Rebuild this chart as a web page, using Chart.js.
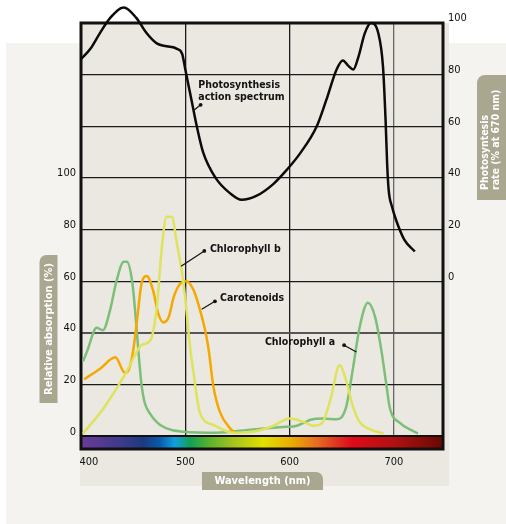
<!DOCTYPE html>
<html>
<head>
<meta charset="utf-8">
<script src="https://cdn.jsdelivr.net/npm/chart.js@4.4.1/dist/chart.umd.min.js"></script>
<style>
  html, body { margin: 0; padding: 0; background: #fff; }
  canvas { display: block; }
</style>
</head>
<body>
<canvas id="spectrumChart" width="506" height="524"></canvas>
<script>
// values: wavelength (nm) -> value
const actionNm = [400, 409, 418, 428, 441, 453, 463, 473, 482, 492, 497, 500, 506, 511, 517, 529, 543, 554, 568, 584, 597, 610, 626, 635, 645, 651, 656, 661, 666, 672, 678, 685, 689.5, 692, 693.5, 695, 698, 702, 710, 720];
const actionRate = [86, 90, 96, 102, 106, 102, 96, 92, 91, 90, 88, 82, 70, 60, 50, 40, 34, 31.5, 33, 37.5, 43, 49.5, 60, 70, 82, 85.5, 83.5, 82, 87, 96, 100, 96, 83, 62, 45, 35, 29, 23.7, 16, 11.5];

const chlANm = [402, 406, 415, 421, 428, 434, 441, 444, 449, 452, 455, 458, 461, 466, 476, 498, 530, 565, 597, 606, 613, 620, 632, 645, 654, 661, 667, 675, 682, 688, 693, 696, 706, 718, 723];
const chlAAbs = [29, 33, 42, 41, 49, 60, 67.5, 67.5, 60, 48, 33, 20, 13, 8.8, 4.3, 1.7, 1.3, 2.6, 3.6, 3.9, 5, 6.3, 6.8, 6.5, 11, 27, 42, 51.6, 46, 33, 19, 11, 5, 2, 1];

const chlBNm = [402, 422, 441, 454, 457, 463, 468, 473, 477, 482, 487, 492, 498, 501, 505, 508, 514, 527, 546, 565, 584, 600, 613, 623, 631, 639, 648, 654, 661, 667, 677, 690];
const chlBAbs = [1, 11, 23, 33, 35, 36, 38.5, 51, 71, 85, 85, 74.5, 60, 49, 33, 24, 9, 4.3, 1.3, 1.7, 3.9, 6.8, 5.5, 4, 5, 14, 27.5, 21.7, 11, 5.5, 2.6, 1];

const carNm = [403, 418, 433, 442, 446, 450, 454, 458, 463, 469, 474, 479, 484, 489, 495, 501, 508, 514, 519, 522, 527, 533, 543, 549];
const carAbs = [22, 26, 30.5, 24.5, 26, 33, 46, 59, 62, 56.5, 47.5, 44, 46, 54, 59, 60, 56.5, 49, 41, 34.5, 19, 9.5, 3, 1];

const xTicks = [400, 500, 600, 700];
const absTicks = [0, 20, 40, 60, 80, 100];
const absGrid = [0, 20, 40, 60, 80, 100, 120, 140, 160];
const rateTicks = [0, 20, 40, 60, 80, 100];

// visible spectrum strip under the plot
const spectrumNm = [400, 440, 460, 475, 490, 505, 520, 545, 575, 600, 625, 645, 660, 700, 745];
const spectrumCol = ['#6b3a99', '#3b3a8b', '#1d3a80', '#0a5aa8', '#12a0e0', '#12a056', '#50b030', '#a2c21e', '#e2e000', '#e9b000', '#e87020', '#e03322', '#e00a18', '#b01212', '#6a0a02'];

const FONT = '"DejaVu Sans Condensed", "Liberation Sans Narrow", sans-serif';
const BADGE = '#a9a790';

const notes = [
    { lines: ['Photosynthesis', 'action spectrum'], nm: 512.4, val: 135.8, dot: [514.7, 128.3], to: [508.5, 126.3] },
    { lines: ['Chlorophyll b'], nm: 523.6, val: 72.3, dot: [518.2, 71.7], to: [495.9, 65.8] },
    { lines: ['Carotenoids'], nm: 533.2, val: 53.5, dot: [528.4, 52.2], to: [515.7, 49.1] },
    { lines: ['Chlorophyll a'], nm: 576.3, val: 36.2, dot: [652.2, 35.2], to: [664, 32.6] }
];

const toPoints = (xs, ys) => xs.map((x, i) => ({ x: x, y: ys[i] }));

function badge(ctx, x, y, w, h, radii) {
    ctx.fillStyle = BADGE;
    ctx.beginPath();
    ctx.roundRect(x, y, w, h, radii);
    ctx.fill();
}

const decor = {
    id: 'decor',
    beforeDraw(chart) {
        const { ctx, chartArea: a } = chart;
        ctx.save();
        ctx.fillStyle = '#ffffff';
        ctx.fillRect(0, 0, chart.width, chart.height);
        ctx.fillStyle = '#f4f3ef';
        ctx.fillRect(6, 43, chart.width - 6, chart.height - 43);
        ctx.fillStyle = '#ebe8e1';
        ctx.fillRect(a.left - 1, a.top, a.right - a.left + 7, 486 - a.top);
        ctx.restore();
    },
    beforeDatasetsDraw(chart) {
        const { ctx, chartArea: a, scales } = chart;
        const top = scales.y.getPixelForValue(0);
        const grad = ctx.createLinearGradient(a.left, 0, a.right, 0);
        spectrumNm.forEach((nm, i) => {
            const off = (scales.x.getPixelForValue(nm) - a.left) / (a.right - a.left);
            grad.addColorStop(Math.min(1, Math.max(0, off)), spectrumCol[i]);
        });
        ctx.save();
        ctx.fillStyle = grad;
        ctx.fillRect(a.left, top, a.right - a.left, a.bottom - top);
        ctx.strokeStyle = '#111';
        ctx.lineWidth = 2;
        ctx.beginPath();
        ctx.moveTo(a.left, top);
        ctx.lineTo(a.right, top);
        ctx.stroke();
        ctx.lineWidth = 3;
        ctx.strokeRect(a.left, a.top, a.right - a.left, a.bottom - a.top);
        ctx.restore();
    },
    afterDraw(chart) {
        const { ctx, scales } = chart;
        const px = v => scales.x.getPixelForValue(v);
        const py = v => scales.y.getPixelForValue(v);
        ctx.save();
        // curve labels
        ctx.fillStyle = '#111';
        ctx.strokeStyle = '#111';
        ctx.font = 'bold 10.5px ' + FONT;
        ctx.textAlign = 'left';
        ctx.textBaseline = 'middle';
        notes.forEach(n => {
            n.lines.forEach((t, i) => ctx.fillText(t, px(n.nm), py(n.val) + i * 11.7));
            ctx.lineWidth = 1.2;
            ctx.beginPath();
            ctx.moveTo(px(n.dot[0]), py(n.dot[1]));
            ctx.lineTo(px(n.to[0]), py(n.to[1]));
            ctx.stroke();
            ctx.beginPath();
            ctx.arc(px(n.dot[0]), py(n.dot[1]), 1.9, 0, Math.PI * 2);
            ctx.fill();
        });

        // axis title badges
        badge(ctx, 39.5, 255, 18, 148, [7, 0, 0, 0]);
        badge(ctx, 477, 75, 30, 125, [8, 0, 0, 0]);
        badge(ctx, 202, 472, 121, 18, [0, 7, 0, 0]);
        ctx.fillStyle = '#ffffff';
        ctx.font = 'bold 11px ' + FONT;
        ctx.textAlign = 'center';
        ctx.fillText('Wavelength (nm)', 262.5, 481.5);

        ctx.save();
        ctx.translate(49, 329);
        ctx.rotate(-Math.PI / 2);
        ctx.fillText('Relative absorption (%)', 0, 0);
        ctx.restore();

        ctx.font = 'bold 10.5px ' + FONT;
        ctx.textAlign = 'left';
        [['Photosyntesis', 485.5], ['rate (% at 670 nm)', 496]].forEach(([t, x]) => {
            ctx.save();
            ctx.translate(x, 190);
            ctx.rotate(-Math.PI / 2);
            ctx.fillText(t, 0, 0);
            ctx.restore();
        });
        ctx.restore();
    }
};

Chart.defaults.font.family = FONT;

const lineSet = (label, pts, color, axis) => ({
    label: label,
    data: pts,
    yAxisID: axis,
    borderColor: color,
    borderWidth: 2.5,
    pointRadius: 0,
    fill: false,
    cubicInterpolationMode: 'monotone',
    clip: false
});

new Chart(document.getElementById('spectrumChart'), {
    type: 'line',
    data: {
        datasets: [
            lineSet('Photosynthesis action spectrum', toPoints(actionNm, actionRate), '#0b0b0b', 'y2'),
            lineSet('Chlorophyll b', toPoints(chlBNm, chlBAbs), '#dfe35c', 'y'),
            lineSet('Carotenoids', toPoints(carNm, carAbs), '#f5a800', 'y'),
            lineSet('Chlorophyll a', toPoints(chlANm, chlAAbs), '#7cbf78', 'y')
        ]
    },
    options: {
        responsive: false,
        devicePixelRatio: 1,
        animation: false,
        layout: { padding: { top: 23, left: 0, right: 0, bottom: 0 } },
        plugins: { legend: { display: false }, tooltip: { enabled: false } },
        scales: {
            x: {
                type: 'linear',
                min: 400,
                max: 747,
                afterBuildTicks: s => { s.ticks = xTicks.map(v => ({ value: v })); },
                afterFit: s => { s.height = 75; },
                grid: {
                    color: c => (c.tick && c.tick.value === 700) ? '#666' : '#1a1a1a',
                    lineWidth: 1.3,
                    drawTicks: false
                },
                border: { display: false },
                ticks: {
                    padding: 7,
                    color: '#111',
                    maxRotation: 0,
                    autoSkip: false,
                    font: { size: 11 },
                    callback: v => v === 400 ? '     400' : String(v)
                }
            },
            y: {
                position: 'left',
                min: -5,
                max: 160,
                afterBuildTicks: s => { s.ticks = absGrid.map(v => ({ value: v })); },
                afterFit: s => { s.width = 81; },
                grid: {
                    color: c => (c.tick && c.tick.value === 40) ? '#555' : '#1a1a1a',
                    lineWidth: c => (c.tick && c.tick.value === 40) ? 2 : 1.2,
                    drawTicks: false
                },
                border: { display: false },
                ticks: {
                    padding: 5,
                    color: '#111',
                    font: { size: 11, lineHeight: 0.8 },
                    callback: v => absTicks.includes(v) ? [String(v), ''] : ''
                }
            },
            y2: {
                position: 'right',
                min: -65,
                max: 100,
                afterBuildTicks: s => { s.ticks = rateTicks.map(v => ({ value: v })); },
                afterFit: s => { s.width = 63; },
                grid: { display: false, drawTicks: false },
                border: { display: false },
                ticks: {
                    padding: 5,
                    color: '#111',
                    font: { size: 11, lineHeight: 0.8 },
                    callback: v => [String(v), '']
                }
            }
        }
    },
    plugins: [decor]
});
</script>
</body>
</html>
